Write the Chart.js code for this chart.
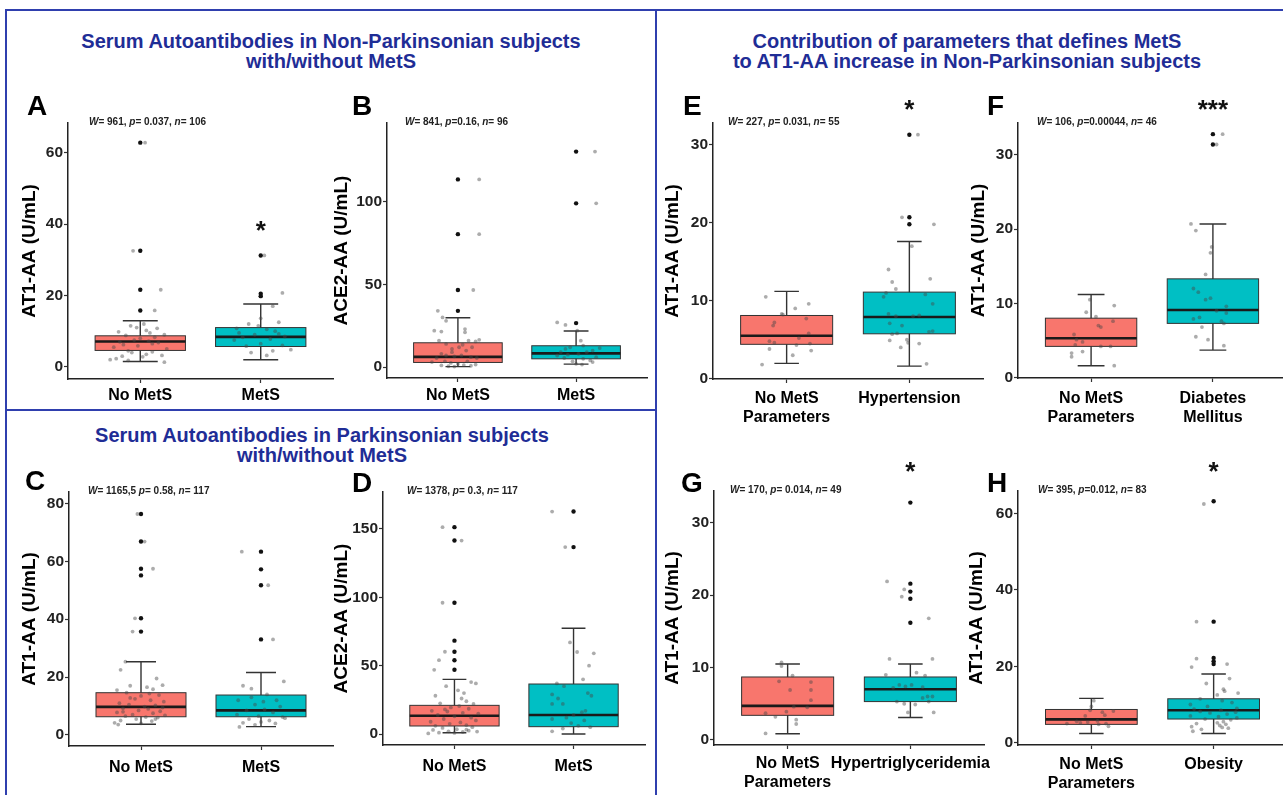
<!DOCTYPE html>
<html>
<head>
<meta charset="utf-8">
<script src="https://cdn.jsdelivr.net/npm/chart.js@4.4.1/dist/chart.umd.min.js"></script>
<style>
  html, body { margin: 0; padding: 0; background: #fff; }
  body { position: relative; width: 1283px; height: 795px; overflow: hidden; font-family: "Liberation Sans", Arial, sans-serif; }
  .ln { position: absolute; background: #2f3fae; }
  .ttl { position: absolute; text-align: center; color: #1f2d96; font-weight: bold; font-size: 20px; line-height: 20px; }
  canvas { position: absolute; }
</style>
</head>
<body>
<div class="ln" style="left:5px;top:9px;width:1278px;height:2px"></div>
<div class="ln" style="left:5px;top:9px;width:2px;height:786px"></div>
<div class="ln" style="left:655px;top:9px;width:2px;height:786px"></div>
<div class="ln" style="left:5px;top:409px;width:652px;height:2px"></div>
<div class="ttl" style="left:7px;top:31px;width:648px">Serum Autoantibodies in Non-Parkinsonian subjects<br>with/without MetS</div>
<div class="ttl" style="left:7px;top:425px;width:630px">Serum Autoantibodies in Parkinsonian subjects<br>with/without MetS</div>
<div class="ttl" style="left:657px;top:31px;width:620px">Contribution of parameters that defines MetS<br>to AT1-AA increase in Non-Parkinsonian subjects</div>

<script>
// ── Categorias ────────────────────────────────────────────────────────────────
const catsMetS = ["No MetS", "MetS"];
const catsE = [["No MetS", "Parameters"], "Hypertension"];
const catsF = [["No MetS", "Parameters"], ["Diabetes", "Mellitus"]];
const catsG = [["No MetS", "Parameters"], "Hypertriglyceridemia"];
const catsH = [["No MetS", "Parameters"], "Obesity"];

// ── Caixas: [whisker baixo, Q1, mediana, Q3, whisker alto] por grupo ──────────
const boxA = [[1.5, 4.6, 7.1, 8.7, 12.9], [2.0, 5.7, 8.4, 11.0, 17.6]];
const boxB = [[0.3, 2.8, 6.2, 14.7, 29.8], [1.8, 5.0, 8.3, 12.9, 21.8]];
const boxC = [[3.7, 6.3, 9.7, 14.6, 25.3], [2.9, 6.3, 8.5, 13.8, 21.6]];
const boxD = [[1.0, 5.9, 13.4, 21.0, 40.0], [0.0, 5.4, 13.9, 36.6, 77.4]];
const boxE = [[1.96, 4.4, 5.5, 8.1, 11.2], [1.6, 5.75, 7.9, 11.1, 17.6]];
const boxF = [[1.6, 4.2, 5.3, 8.0, 11.2], [3.7, 7.3, 9.1, 13.3, 20.7]];
const boxG = [[0.85, 3.4, 4.7, 8.7, 10.5], [3.1, 5.3, 7.0, 8.7, 10.5]];
const boxH = [[2.4, 4.8, 6.1, 8.7, 11.6], [2.4, 6.2, 8.5, 11.5, 18.0]];

// ── Outliers (pontos pretos no centro) ────────────────────────────────────────
const outA = [[62.8, 32.5, 21.6, 15.8], [31.2, 20.5, 19.8]];
const outB = [[113.5, 80.4, 46.6, 34.0], [130.3, 99.0, 26.6]];
const outC = [[76.3, 66.8, 57.4, 55.1, 40.3, 35.7], [63.3, 57.2, 51.7, 33.0]];
const outD = [[151.3, 141.5, 96.0, 68.3, 60.2, 54.0, 47.0], [162.7, 136.7]];
const outE = [[], [31.3, 20.7, 19.8]];
const outF = [[], [32.8, 31.4]];
const outG = [[], [32.8, 21.6, 20.5, 19.5, 16.2]];
const outH = [[], [63.2, 31.7, 22.2, 21.3, 20.6]];

// ── Pontos com jitter: [deslocamento em x, valor] ─────────────────────────────
const jitA = [
  [[0.04,62.8],[-0.06,32.5],[0.17,21.6],[0.12,15.8],[-0.2,2.3],[-0.15,3.0],[-0.1,4.5],[0.05,3.5],[0.1,4.2],[0.2,1.3],[-0.05,7.5],[0.0,8.0],[-0.12,8.8],[0.08,9.5],[-0.18,9.8],[-0.03,11.0],[0.03,12.0],[-0.08,11.5],[0.14,10.8],[0.15,6.8],[-0.22,5.5],[0.22,5.0],[-0.02,5.9],[0.07,7.2],[-0.14,6.2],[0.18,3.2],[-0.25,2.0],[0.1,6.5],[-0.07,4.0],[0.02,2.8],[0.12,8.3],[-0.17,7.0],[0.2,9.0],[0.05,10.2],[-0.1,1.8]],
  [[0.03,31.2],[0.18,20.7],[0.0,19.8],[0.1,17.0],[0.0,13.6],[0.15,12.5],[-0.1,12.0],[-0.2,10.8],[0.05,10.5],[0.12,10.0],[-0.05,9.0],[0.2,8.5],[-0.15,8.3],[0.08,7.8],[-0.22,7.5],[0.0,6.5],[0.18,6.0],[-0.12,5.8],[0.25,4.8],[0.1,4.5],[-0.08,4.0],[0.05,3.2],[-0.18,9.5],[0.15,9.2],[-0.02,11.5]]
];
const jitB = [
  [[0.18,113.5],[0.18,80.4],[0.13,46.6],[-0.17,34],[-0.13,30],[-0.1,28],[-0.2,22],[-0.14,21.5],[0.06,23],[0.06,21],[-0.16,16],[0.09,16],[0.18,16.5],[0.15,15.5],[0.04,13.5],[0.01,12],[-0.05,11],[0.07,10],[-0.14,8],[-0.1,7],[-0.03,6.5],[0.03,7],[0.11,6],[0.16,5.5],[-0.18,5.5],[-0.22,3],[-0.11,3.5],[-0.06,2.5],[0.0,1.8],[0.05,1.2],[0.11,0.8],[-0.08,0.5],[-0.14,1],[0.15,1.5],[-0.03,0.3],[0.08,3.5],[-0.05,9],[0.12,12],[-0.1,14]],
  [[0.16,130.3],[0.17,99],[-0.16,27],[-0.09,25.5],[0.01,22],[0.04,16],[-0.09,11],[-0.13,9],[-0.05,12],[0.06,13],[0.14,10],[0.2,11.5],[0.17,6],[0.12,4],[0.06,5],[-0.03,3.5],[-0.1,5.5],[-0.16,7],[0.02,8],[0.09,9],[0.0,2],[0.05,1.5],[-0.07,7.5],[0.14,3]]
];
const jitC = [
  [[-0.03,76.3],[0.03,66.8],[0.1,57.4],[-0.05,40.3],[-0.07,35.7],[-0.13,25.3],[-0.17,22.5],[0.13,19.5],[0.18,17.2],[-0.09,17.0],[0.05,16.5],[-0.2,15.5],[0.1,15.8],[-0.12,14.6],[0.15,13.8],[0.0,13.5],[-0.05,12.5],[0.08,12.0],[0.19,11.5],[-0.18,11.0],[-0.1,10.5],[0.12,10.2],[0.03,9.8],[-0.15,9.2],[0.06,9.0],[-0.02,8.5],[0.16,8.2],[-0.2,7.8],[0.1,7.5],[-0.07,7.0],[0.2,6.8],[-0.13,6.5],[0.04,6.2],[0.14,6.0],[-0.04,5.5],[-0.17,5.0],[0.09,4.8],[-0.22,4.2],[-0.19,3.6],[0.0,4.0],[0.12,5.5],[-0.09,12.8],[0.07,14.3],[-0.15,8.0],[0.18,9.5]],
  [[-0.16,63.3],[0.06,51.7],[0.1,33.0],[0.19,18.5],[-0.15,17.0],[-0.08,16.0],[0.05,14.0],[-0.19,12.0],[0.13,12.0],[-0.05,10.5],[0.16,9.8],[-0.12,8.5],[0.03,8.8],[0.1,7.8],[-0.2,7.0],[-0.02,6.5],[0.18,6.2],[-0.1,5.5],[0.07,5.0],[-0.15,4.2],[0.0,4.5],[0.12,4.0],[-0.05,3.5],[-0.18,2.8],[0.2,5.8],[0.02,11.5],[-0.08,13.0]]
];
const jitD = [
  [[-0.1,151.3],[0.06,141.5],[-0.1,96.0],[-0.08,60.2],[-0.13,54.0],[-0.17,47.0],[0.14,38.0],[0.18,37.0],[-0.07,35.0],[0.03,32.0],[0.08,30.0],[-0.16,28.0],[0.1,24.0],[-0.12,22.5],[0.16,22.0],[0.04,20.5],[-0.03,19.5],[0.12,18.5],[-0.19,17.0],[-0.06,16.5],[0.07,15.5],[0.2,15.0],[-0.14,14.0],[0.0,13.0],[0.14,12.0],[-0.09,11.0],[0.18,10.0],[-0.2,9.0],[0.05,8.5],[-0.04,7.5],[0.1,6.5],[-0.16,6.0],[0.15,5.0],[-0.1,4.5],[0.02,3.5],[-0.18,3.0],[0.12,2.5],[-0.05,2.0],[0.07,1.5],[-0.13,1.0],[0.19,1.8],[-0.22,0.5],[0.0,0.8],[0.1,3.2],[-0.08,18.0],[0.06,26.0]],
  [[-0.18,162.7],[-0.07,136.7],[-0.03,67],[0.03,60],[0.17,59],[0.13,50],[0.08,40],[-0.14,37],[-0.08,35],[-0.18,29],[0.15,28],[-0.13,26],[-0.18,22],[-0.09,22],[0.1,17],[0.07,16],[-0.06,12],[-0.18,11],[0.09,10],[0.04,6],[0.14,5],[-0.09,4],[-0.18,2],[0.0,14],[0.12,30],[-0.02,8]]
];
const jitE = [
  [[-0.17,10.5],[-0.1,7.2],[-0.11,6.8],[-0.14,4.8],[-0.2,1.8],[0.07,9.0],[0.18,9.6],[0.16,7.7],[0.18,5.8],[0.19,4.5],[0.2,3.6],[0.05,3.0],[0.08,4.3],[0.1,5.2],[-0.04,8.3],[-0.14,3.8],[-0.1,4.6],[-0.03,8.2]],
  [[0.07,31.3],[-0.06,20.7],[0.2,19.8],[0.02,17.0],[-0.17,14.0],[0.17,12.8],[-0.14,12.4],[-0.11,11.5],[-0.19,11.0],[0.13,10.8],[-0.21,10.5],[0.19,9.6],[-0.17,8.3],[-0.11,8.0],[0.03,8.0],[0.08,8.1],[-0.16,7.1],[-0.06,6.8],[0.19,6.1],[0.16,6.0],[-0.1,5.8],[-0.14,5.7],[-0.02,5.0],[-0.16,4.9],[-0.01,4.6],[0.08,4.5],[-0.07,4.0],[0.14,1.9]]
];
const jitF = [
  [[-0.04,8.8],[-0.01,10.5],[0.04,8.2],[0.06,7.0],[0.08,6.8],[0.18,7.6],[0.19,9.7],[0.16,4.2],[0.08,4.2],[-0.07,4.8],[-0.14,5.8],[-0.13,4.4],[-0.16,3.3],[-0.16,2.8],[-0.07,3.5],[-0.12,5.1],[0.19,1.6]],
  [[0.08,32.8],[0.03,31.4],[-0.18,20.7],[-0.14,19.8],[-0.01,17.6],[-0.02,16.8],[-0.06,13.9],[-0.16,12.0],[-0.12,11.5],[-0.02,10.7],[-0.06,10.5],[0.11,9.6],[0.03,9.0],[0.11,8.7],[-0.11,8.1],[-0.16,7.9],[0.07,7.6],[0.09,7.3],[-0.09,6.8],[-0.14,5.5],[-0.04,5.1],[0.09,4.3]]
];
const jitG = [
  [[-0.05,10.7],[-0.05,10.2],[0.04,8.9],[-0.07,8.1],[0.02,6.9],[0.19,8.0],[0.19,6.9],[0.19,5.5],[0.16,4.5],[0.05,4.6],[-0.01,3.9],[-0.18,3.7],[-0.1,3.2],[0.07,2.8],[0.07,2.2],[-0.18,0.9]],
  [[-0.19,21.9],[-0.05,20.8],[-0.07,19.8],[0.15,16.8],[-0.17,11.2],[0.18,11.2],[-0.2,9.0],[0.05,9.3],[0.12,8.9],[-0.14,7.2],[-0.09,7.6],[-0.04,7.4],[0.01,7.6],[0.1,7.3],[0.14,6.0],[0.18,6.0],[0.1,5.8],[-0.11,5.3],[-0.05,5.0],[0.04,4.9],[-0.02,3.8],[0.19,3.8],[0.15,5.3]]
];
const jitH = [
  [[0.02,11],[0.0,9.5],[-0.01,8.5],[0.09,8.0],[0.11,7.2],[0.18,8.3],[-0.05,7.0],[-0.12,5.6],[-0.2,5.0],[-0.09,5.2],[0.05,5.7],[0.12,5.0],[0.14,4.3],[0.06,4.8],[-0.03,5.4]],
  [[-0.08,62.5],[-0.14,31.7],[-0.14,22],[0.11,20.6],[-0.18,19.8],[0.13,16.8],[-0.06,15.5],[0.08,14],[0.09,13.5],[0.2,13],[0.03,12.5],[-0.11,11.5],[0.07,11],[0.15,10.5],[-0.19,10],[-0.05,9.5],[0.19,9],[-0.16,8.8],[0.06,8.5],[-0.11,8.2],[0.18,8],[-0.03,7.8],[0.11,7.5],[-0.19,7],[0.04,6.8],[0.19,6.5],[-0.07,6.2],[0.14,6],[0.08,5.5],[0.03,5.2],[-0.14,5],[0.1,4.8],[0.05,4.5],[-0.18,4.2],[0.07,4],[-0.1,3.5],[-0.17,3],[0.12,3.8]]
];

// ── Testes estatísticos e asteriscos [grupo, altura] ──────────────────────────
const statA = "W= 961, p= 0.037, n= 106";
const statB = "W= 841, p=0.16, n= 96";
const statC = "W= 1165,5 p= 0.58, n= 117";
const statD = "W= 1378, p= 0.3, n= 117";
const statE = "W= 227, p= 0.031, n= 55";
const statF = "W= 106, p=0.00044, n= 46";
const statG = "W= 170, p= 0.014, n= 49";
const statH = "W= 395, p=0.012, n= 83";
const starA = ["*", 2, 39.8];
const starE = ["*", 2, 35.3];
const starF = ["***", 2, 36.9];
const starG = ["*", 2, 37.9];
const starH = ["*", 2, 72.6];

// ── Ticks dos eixos y ─────────────────────────────────────────────────────────
const ticksA = [0, 20, 40, 60];
const ticksB = [0, 50, 100];
const ticksC = [0, 20, 40, 60, 80];
const ticksD = [0, 50, 100, 150];
const ticksE = [0, 10, 20, 30];
const ticksH = [0, 20, 40, 60];

const FF = "'Liberation Sans', Arial, sans-serif";
const fills = ["#F8766D", "#00BFC4"];
const TITLE_SIZE = 19;

// ── Layout de cada painel (coordenadas da página) ─────────────────────────────
const panels = [
  { id: "A", cats: catsMetS, box: boxA, out: outA, jit: jitA, stat: statA, star: starA, ticks: ticksA, yMin: -3.4, yMax: 68.3, yTitle: "AT1-AA (U/mL)",
    ax: 68, top: 123, bot: 379, right: 333, titleX: 30, letter: [27, 115], statX: 89, pad: 2.5, cap: 0.29 },
  { id: "B", cats: catsMetS, box: boxB, out: outB, jit: jitB, stat: statB, star: null, ticks: ticksB, yMin: -6.6, yMax: 147.6, yTitle: "ACE2-AA (U/mL)",
    ax: 387, top: 123, bot: 378, right: 647, titleX: 342, letter: [352, 115], statX: 405, pad: 3.5, cap: 0.21 },
  { id: "C", cats: catsMetS, box: boxC, out: outC, jit: jitC, stat: statC, star: null, ticks: ticksC, yMin: -3.8, yMax: 83.9, yTitle: "AT1-AA (U/mL)",
    ax: 69, top: 492, bot: 746, right: 333, titleX: 30, letter: [25, 490], statX: 88, pad: 7.5, cap: 0.25 },
  { id: "D", cats: catsMetS, box: boxD, out: outD, jit: jitD, stat: statD, star: null, ticks: ticksD, yMin: -8, yMax: 177, yTitle: "ACE2-AA (U/mL)",
    ax: 383, top: 492, bot: 745, right: 645, titleX: 342, letter: [352, 492], statX: 407, pad: 8, cap: 0.2 },
  { id: "E", cats: catsE, box: boxE, out: outE, jit: jitE, stat: statE, star: starE, ticks: ticksE, yMin: -0.05, yMax: 32.8, yTitle: "AT1-AA (U/mL)",
    ax: 713, top: 123, bot: 379, right: 983, titleX: 673, letter: [683, 115], statX: 728, pad: 6, cap: 0.2 },
  { id: "F", cats: catsF, box: boxF, out: outF, jit: jitF, stat: statF, star: starF, ticks: ticksE, yMin: -0.06, yMax: 34.3, yTitle: "AT1-AA (U/mL)",
    ax: 1018, top: 123, bot: 378, right: 1286, titleX: 979, letter: [987, 115], statX: 1037, pad: 6.5, cap: 0.22 },
  { id: "G", cats: catsG, box: boxG, out: outG, jit: jitG, stat: statG, star: starG, ticks: ticksE, yMin: -0.7, yMax: 34.4, yTitle: "AT1-AA (U/mL)",
    ax: 714, top: 491, bot: 745, right: 984, titleX: 673, letter: [681, 492], statX: 730, pad: 5, cap: 0.2 },
  { id: "H", cats: catsH, box: boxH, out: outH, jit: jitH, stat: statH, star: starH, ticks: ticksH, yMin: -0.6, yMax: 65.9, yTitle: "AT1-AA (U/mL)",
    ax: 1018, top: 491, bot: 745, right: 1287, titleX: 977, letter: [987, 492], statX: 1038, pad: 5.5, cap: 0.2 }
];

// ── Plugin: caixas, whiskers, letra, teste e asterisco ────────────────────────
const boxPlugin = {
  id: "boxes",
  beforeDatasetsDraw(chart, args, o) {
    const { ctx, scales: { x, y } } = chart;
    o.box.forEach((b, i) => {
      const cx = x.getPixelForValue(i + 1);
      const hw = x.getPixelForValue(i + 1.375) - cx;
      const cw = x.getPixelForValue(i + 1 + o.cap / 2) - cx;
      const [lo, q1, md, q3, hi] = b.map(v => y.getPixelForValue(v));
      ctx.save();
      ctx.strokeStyle = "#333";
      ctx.lineWidth = 1.4;
      ctx.beginPath();
      ctx.moveTo(cx, lo); ctx.lineTo(cx, hi);
      ctx.moveTo(cx - cw, lo); ctx.lineTo(cx + cw, lo);
      ctx.moveTo(cx - cw, hi); ctx.lineTo(cx + cw, hi);
      ctx.stroke();
      ctx.fillStyle = fills[i];
      ctx.fillRect(cx - hw, q3, 2 * hw, q1 - q3);
      ctx.lineWidth = 1;
      ctx.strokeRect(cx - hw, q3, 2 * hw, q1 - q3);
      ctx.strokeStyle = "#1a1a1a";
      ctx.lineWidth = 2.6;
      ctx.beginPath();
      ctx.moveTo(cx - hw, md); ctx.lineTo(cx + hw, md);
      ctx.stroke();
      ctx.restore();
    });
  },
  afterDraw(chart, args, o) {
    const { ctx, chartArea, scales: { x, y } } = chart;
    ctx.save();
    ctx.fillStyle = "#000";
    ctx.textAlign = "left";
    ctx.textBaseline = "alphabetic";
    ctx.font = "bold 28px " + FF;
    ctx.fillText(o.id, o.letter[0] - o.L, o.letter[1] - o.T);

    // texto do teste com W, p, n em itálico
    ctx.fillStyle = "#222";
    ctx.textBaseline = "middle";
    let sx = o.statX - o.L;
    o.stat.split(/([Wpn])(?==)/).forEach(part => {
      if (!part) return;
      const it = /^[Wpn]$/.test(part);
      ctx.font = (it ? "italic " : "") + "bold 10px " + FF;
      ctx.fillText(part, sx, chartArea.top - 1);
      sx += ctx.measureText(part).width;
    });

    if (o.star) {
      ctx.fillStyle = "#111";
      ctx.textAlign = "center";
      ctx.textBaseline = "alphabetic";
      ctx.font = "bold 26px " + FF;
      ctx.fillText(o.star[0], x.getPixelForValue(o.star[1]), y.getPixelForValue(o.star[2]) + 14.5);
    }
    ctx.restore();
  }
};

const axisGrid = { display: true, drawOnChartArea: false, drawTicks: true, tickLength: 4, tickColor: "#333", tickWidth: 1.2 };
const axisBorder = { display: true, color: "#222", width: 1.5 };

panels.forEach(p => {
  const L = p.ax - 68, T = p.top - 40;
  const W = p.right - p.ax + 88, H = p.bot - p.top + 90;
  const c = document.createElement("canvas");
  c.width = W; c.height = H;
  c.style.left = L + "px"; c.style.top = T + "px";
  c.style.width = W + "px"; c.style.height = H + "px";
  document.body.appendChild(c);

  const outPts = [], jitPts = [];
  p.out.forEach((g, i) => g.forEach(v => outPts.push({ x: i + 1, y: v })));
  p.jit.forEach((g, i) => g.forEach(([dx, v]) => jitPts.push({ x: i + 1 + dx, y: v })));

  new Chart(c, {
    type: "scatter",
    data: {
      datasets: [
        { data: outPts, pointRadius: 2.2, backgroundColor: "#111", borderWidth: 0 },
        { data: jitPts, pointRadius: 1.9, backgroundColor: "rgba(70,70,70,0.45)", borderWidth: 0 }
      ]
    },
    plugins: [boxPlugin],
    options: {
      responsive: false,
      animation: false,
      events: [],
      devicePixelRatio: 1,
      layout: { padding: { left: 0, top: 40, right: 20, bottom: 0 } },
      plugins: {
        legend: { display: false },
        tooltip: { enabled: false },
        boxes: { id: p.id, box: p.box, cap: p.cap, stat: p.stat, star: p.star, letter: p.letter, statX: p.statX, L, T }
      },
      scales: {
        x: {
          type: "linear", min: 0.4, max: 2.6,
          afterBuildTicks: s => { s.ticks = [{ value: 1 }, { value: 2 }]; },
          afterFit: s => { s.height = 50; },
          ticks: { callback: v => p.cats[v - 1], color: "#000", font: { size: 16, weight: "bold", family: FF }, padding: p.pad, autoSkip: false, maxRotation: 0 },
          grid: axisGrid, border: axisBorder
        },
        y: {
          type: "linear", min: p.yMin, max: p.yMax,
          afterBuildTicks: s => { s.ticks = p.ticks.map(v => ({ value: v })); },
          afterFit: s => { s.width = 68; },
          ticks: { color: "#222", font: { size: 15.5, weight: "bold", family: FF }, padding: 1 },
          title: { display: true, text: p.yTitle, color: "#000", font: { size: TITLE_SIZE, weight: "bold", family: FF }, padding: { top: p.titleX - L - TITLE_SIZE * 0.6, bottom: 0 } },
          grid: axisGrid, border: axisBorder
        }
      }
    }
  });
});
</script>
</body>
</html>
